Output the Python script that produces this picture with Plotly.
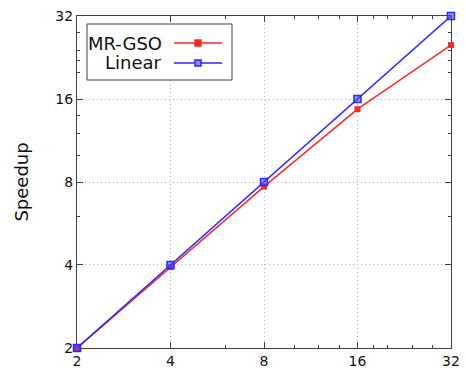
import math
import plotly.graph_objects as go

# Data
procs = [2, 4, 8, 16, 32]
mr_gso = [2.0, 3.93, 7.7, 14.7, 25.1]
linear = [2, 4, 8, 16, 32]
tick_vals = [2, 4, 8, 16, 32]
tick_text = ["2", "4", "8", "16", "32"]
minor_vals_x = [6, 10, 12, 14, 18, 20, 24, 28]
minor_vals_y = [6, 10, 12, 14, 20, 22, 24, 28]

RED = "rgb(255,40,40)"
BLUE = "rgb(40,40,255)"
BLUE_FILL = "rgba(70,70,255,0.55)"
FONT = "DejaVu Sans"
AX = "#404040"
RANGE = [math.log10(2) - 1e-4, math.log10(32) + 1e-4]

fig = go.Figure()
fig.add_trace(go.Scatter(x=procs, y=mr_gso, mode="lines+markers", name="MR-GSO",
                         line=dict(color=RED, width=1.5),
                         marker=dict(symbol="square", size=6, color=RED),
                         cliponaxis=False, showlegend=False))
fig.add_trace(go.Scatter(x=procs, y=linear, mode="lines+markers", name="Linear",
                         line=dict(color=BLUE, width=1.5),
                         marker=dict(symbol="square", size=7, color=BLUE_FILL,
                                     line=dict(width=1.5, color=BLUE)),
                         cliponaxis=False, showlegend=False))
# invisible trace to activate minor-tick overlay axes
fig.add_trace(go.Scatter(x=procs, y=linear, xaxis="x2", yaxis="y2", mode="none",
                         showlegend=False, hoverinfo="skip"))

axis_common = dict(type="log", tickmode="array", tickvals=tick_vals, ticktext=tick_text,
                   ticks="inside", ticklen=6, tickcolor=AX, tickwidth=1,
                   showline=True, linecolor=AX, linewidth=1, mirror="allticks",
                   showgrid=True, gridcolor="#b4b4b4", griddash="1px,3px", gridwidth=1,
                   zeroline=False, automargin=False, range=RANGE, layer="below traces",
                   tickfont=dict(family=FONT, size=14, color="#111"))

minor_common = dict(type="log", tickmode="array", ticks="inside", ticklen=3,
                    tickcolor=AX, tickwidth=1, showticklabels=False, showgrid=False,
                    showline=False, zeroline=False, mirror="ticks", automargin=False,
                    range=RANGE)

fig.update_layout(
    xaxis=dict(**axis_common),
    yaxis=dict(**axis_common,
               title=dict(text="Speedup", font=dict(family=FONT, size=18, color="#111"),
                          standoff=22)),
    xaxis2=dict(**minor_common, tickvals=minor_vals_x, overlaying="x", side="bottom",
                anchor="y"),
    yaxis2=dict(**minor_common, tickvals=minor_vals_y, overlaying="y", side="left",
                anchor="x"),
)

# Custom legend (text on the left, sample on the right, as in the reference)
def px_x(p):
    return (p - 77) / 374.0

def px_y(p):
    return (348 - p) / 332.0

shapes = [dict(type="rect", xref="paper", yref="paper",
               x0=px_x(87), x1=px_x(232), y0=px_y(80), y1=px_y(24),
               line=dict(color=AX, width=1), fillcolor="white", layer="above")]
annotations = []
for label, color, yrow, sym in [("MR-GSO", RED, 43, "fill"), ("Linear", BLUE, 63, "open")]:
    shapes.append(dict(type="line", xref="paper", yref="paper",
                       x0=px_x(174), x1=px_x(222), y0=px_y(yrow), y1=px_y(yrow),
                       line=dict(color=color, width=1.5), layer="above"))
    shapes.append(dict(type="rect", xref="paper", yref="paper",
                       x0=px_x(195), x1=px_x(201), y0=px_y(yrow + 3), y1=px_y(yrow - 3),
                       line=dict(color=color, width=1.5),
                       fillcolor=color if sym == "fill" else "rgba(140,140,255,1)",
                       layer="above"))
    annotations.append(dict(text=label, xref="paper", yref="paper",
                            x=px_x(164), y=px_y(yrow), xanchor="right", yanchor="middle",
                            showarrow=False, font=dict(family=FONT, size=18, color="#111")))

fig.update_layout(width=466, height=380,
                  margin=dict(l=77, r=15, t=16, b=32, autoexpand=False),
                  paper_bgcolor="white", plot_bgcolor="white",
                  shapes=shapes, annotations=annotations,
                  showlegend=False)

fig.write_html("out.html")
